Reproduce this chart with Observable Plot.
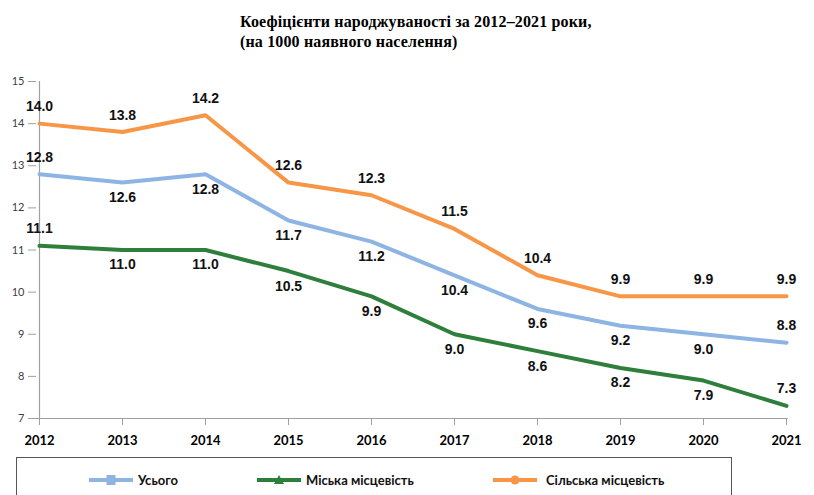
<!DOCTYPE html>
<html>
<head>
<meta charset="utf-8">
<script src="https://cdn.jsdelivr.net/npm/d3@7"></script>
<script src="https://cdn.jsdelivr.net/npm/@observablehq/plot@0.6"></script>
<style>
  html, body { margin: 0; padding: 0; background: #fff; }
  #wrap { position: relative; width: 814px; height: 495px; overflow: hidden; }
  #title { position: absolute; left: 240px; top: 12px; font-family: "Liberation Serif", serif; font-weight: bold; font-size: 16px; line-height: 20px; color: #000; letter-spacing: 0.15px; white-space: nowrap; }
  #chart { position: absolute; left: 0; top: 58px; }
  #legend { position: absolute; left: 16px; top: 457px; width: 716px; height: 60px; border: 1px solid #555; box-sizing: border-box; }
  .sw { position: absolute; top: 16px; }
  .lt { position: absolute; top: 13px; font-family: Lato, sans-serif; font-weight: bold; font-size: 13px; line-height: 18px; color: #111; white-space: nowrap; }
</style>
</head>
<body>
<div id="wrap">
  <div id="title">Коефіцієнти народжуваності за 2012–2021 роки,<br>(на 1000 наявного населення)</div>
  <div id="chart"></div>
  <div id="legend"></div>
</div>
<script>
const years = [2012, 2013, 2014, 2015, 2016, 2017, 2018, 2019, 2020, 2021];
const seriesNames = ["Усього", "Міська місцевість", "Сільська місцевість"];
const total = [12.8, 12.6, 12.8, 11.7, 11.2, 10.4, 9.6, 9.2, 9.0, 8.8];
const urban = [11.1, 11.0, 11.0, 10.5, 9.9, 9.0, 8.6, 8.2, 7.9, 7.3];
const rural = [14.0, 13.8, 14.2, 12.6, 12.3, 11.5, 10.4, 9.9, 9.9, 9.9];
const yTicks = [7, 8, 9, 10, 11, 12, 13, 14, 15];
const colors = ["#8db4e2", "#2e7f3b", "#f79646"];

const seriesVals = [total, urban, rural];
const rows = [];
seriesVals.forEach((vals, s) => {
  vals.forEach((v, i) => rows.push({series: seriesNames[s], s, i, year: years[i], value: v}));
});
// label above for rural always; for others above at first and last point
const isAbove = d => d.s === 2 || d.i === 0 || d.i === years.length - 1;
const above = rows.filter(isAbove);
const below = rows.filter(d => !isAbove(d));

const plot = Plot.plot({
  width: 814,
  height: 395,
  marginLeft: 36,
  marginRight: 26,
  marginTop: 23,
  marginBottom: 35,
  x: {type: "point", domain: years, padding: 0},
  y: {domain: [7, 15]},
  color: {domain: seriesNames, range: colors},
  style: {fontFamily: "Liberation Sans, sans-serif", overflow: "visible"},
  marks: [
    Plot.ruleY([7], {stroke: "#a0a0a0", strokeWidth: 1.2}),
    Plot.ruleX([years[0]], {stroke: "#a0a0a0", strokeWidth: 1.2}),
    Plot.axisY({ticks: yTicks, tickSize: 8, tickPadding: 4, stroke: "#a0a0a0", fill: "#404040", fontSize: 11, label: null, fontFamily: "Lato, sans-serif"}),
    Plot.axisX({tickSize: 7, tickPadding: 10, stroke: "#a0a0a0", fill: "#000", fontSize: 13, fontWeight: "bold", label: null, tickFormat: d => String(d), fontFamily: "Lato, sans-serif"}),
    Plot.line(rows, {x: "year", y: "value", z: "series", stroke: "series", strokeWidth: 4, strokeLinejoin: "round"}),
    Plot.text(above, {x: "year", y: "value", text: d => d.value.toFixed(1), fontSize: 14, fontWeight: "bold", fill: "#111", dy: -17}),
    Plot.text(below, {x: "year", y: "value", text: d => d.value.toFixed(1), fontSize: 14, fontWeight: "bold", fill: "#111", dy: 15})
  ]
});
document.getElementById("chart").appendChild(plot);

const legend = document.getElementById("legend");
const swLefts = [72, 240, 476];
const textLefts = [121, 289, 529];
const markers = [
  '<rect x="17.5" y="1" width="9" height="10" />',
  '<path d="M22,1 L27,10 L17,10 Z" />',
  '<circle cx="22" cy="6" r="4.5" />'
];
seriesNames.forEach((name, i) => {
  const sw = document.createElement("div");
  sw.className = "sw";
  sw.style.left = swLefts[i] + "px";
  sw.innerHTML = `<svg width="44" height="12" style="display:block"><line x1="0" y1="6" x2="44" y2="6" stroke="${colors[i]}" stroke-width="4"/><g fill="${colors[i]}">${markers[i]}</g></svg>`;
  legend.appendChild(sw);
  const t = document.createElement("div");
  t.className = "lt";
  t.style.left = textLefts[i] + "px";
  t.textContent = name;
  legend.appendChild(t);
});
</script>
</body>
</html>
